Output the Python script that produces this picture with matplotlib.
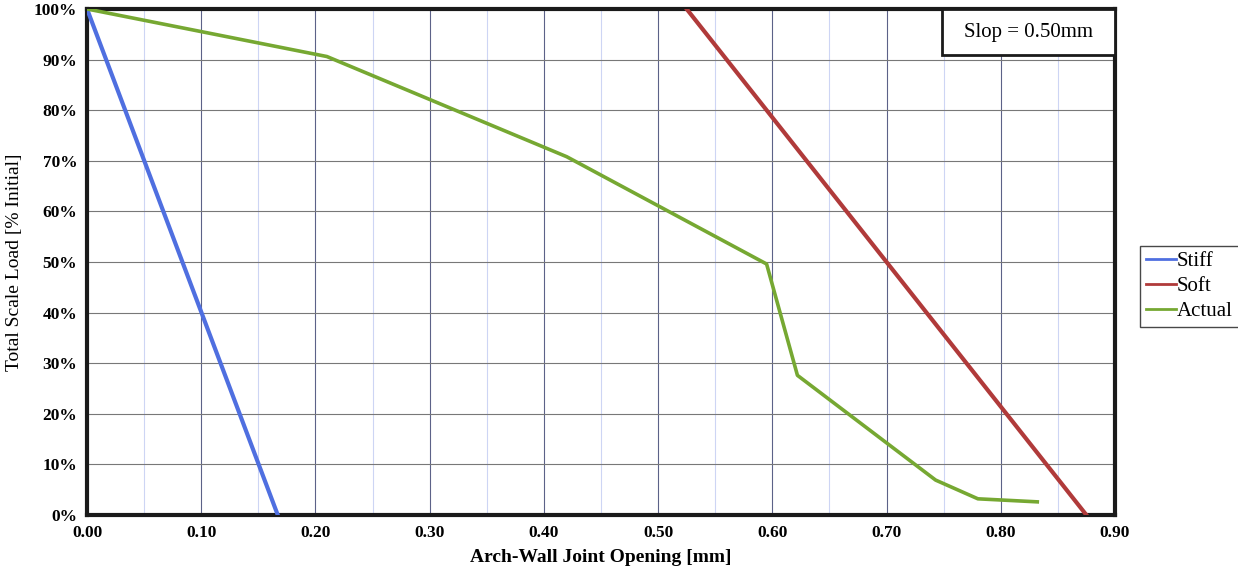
import matplotlib
matplotlib.use("Agg")
import matplotlib.pyplot as plt
from matplotlib.ticker import MultipleLocator, FuncFormatter
from matplotlib.patches import Rectangle

plt.rcParams['font.family'] = ['Liberation Serif', 'DejaVu Serif']

# Data
stiff_x = [0.0, 0.167]
stiff_y = [100, 0]

soft_x = [0.525, 0.875]
soft_y = [100, 0]

actual_x = [0.0, 0.21, 0.42, 0.595, 0.622, 0.743, 0.780, 0.832]
actual_y = [100, 90.6, 70.8, 49.6, 27.6, 6.9, 3.2, 2.6]

x_ticks = [0.0, 0.1, 0.2, 0.3, 0.4, 0.5, 0.6, 0.7, 0.8, 0.9]
y_ticks = [0, 10, 20, 30, 40, 50, 60, 70, 80, 90, 100]

fig = plt.figure(figsize=(12.38, 5.67), dpi=100)
ax = fig.add_axes([0.0703, 0.0917, 0.8303, 0.8925])

ax.plot(stiff_x, stiff_y, color='#4f6fe0', lw=3, label='Stiff', zorder=3)
ax.plot(soft_x, soft_y, color='#b03a3a', lw=3, label='Soft', zorder=3)
ax.plot(actual_x, actual_y, color='#76a832', lw=2.6, label='Actual', zorder=3)

ax.set_xlim(0, 0.9)
ax.set_ylim(0, 100)
ax.set_xticks(x_ticks)
ax.set_yticks(y_ticks)
ax.xaxis.set_minor_locator(MultipleLocator(0.05))
ax.xaxis.set_major_formatter(FuncFormatter(lambda v, p: f"{v:.2f}"))
ax.yaxis.set_major_formatter(FuncFormatter(lambda v, p: f"{v:.0f}%"))

ax.grid(True, axis='x', which='major', color='#5c6288', lw=0.8)
ax.grid(True, axis='x', which='minor', color='#cdd5f4', lw=0.8)
ax.grid(True, axis='y', which='major', color='#787878', lw=0.8)
ax.set_axisbelow(True)

ax.tick_params(axis='both', which='both', length=0, pad=7)
for lab in ax.get_xticklabels() + ax.get_yticklabels():
    lab.set_fontweight('bold')
    lab.set_fontsize(12.5)

for s in ax.spines.values():
    s.set_linewidth(3)
    s.set_color('#1a1a1a')

ax.set_xlabel('Arch-Wall Joint Opening [mm]', fontsize=14, fontweight='bold', labelpad=6)
ax.set_ylabel('Total Scale Load [% Initial]', fontsize=14, labelpad=8)

# "Slop" annotation box at the top right of the plot
ax.add_patch(Rectangle((0.832, 0.909), 0.168, 0.091, transform=ax.transAxes,
                       facecolor='white', edgecolor='#1a1a1a', lw=2, zorder=5, clip_on=False))
ax.text(0.916, 0.954, 'Slop = 0.50mm', transform=ax.transAxes, fontsize=15,
        ha='center', va='center', zorder=6)

leg = fig.legend(loc='center left', bbox_to_anchor=(0.921, 0.495), fontsize=15,
                 frameon=True, fancybox=False, handlelength=1.4, handletextpad=0.05,
                 borderpad=0.3, labelspacing=0.25, borderaxespad=0)
leg.get_frame().set_edgecolor('#1a1a1a')
leg.get_frame().set_linewidth(1)
for line in leg.get_lines():
    line.set_linewidth(2)

fig.savefig('out.png', dpi=100)
